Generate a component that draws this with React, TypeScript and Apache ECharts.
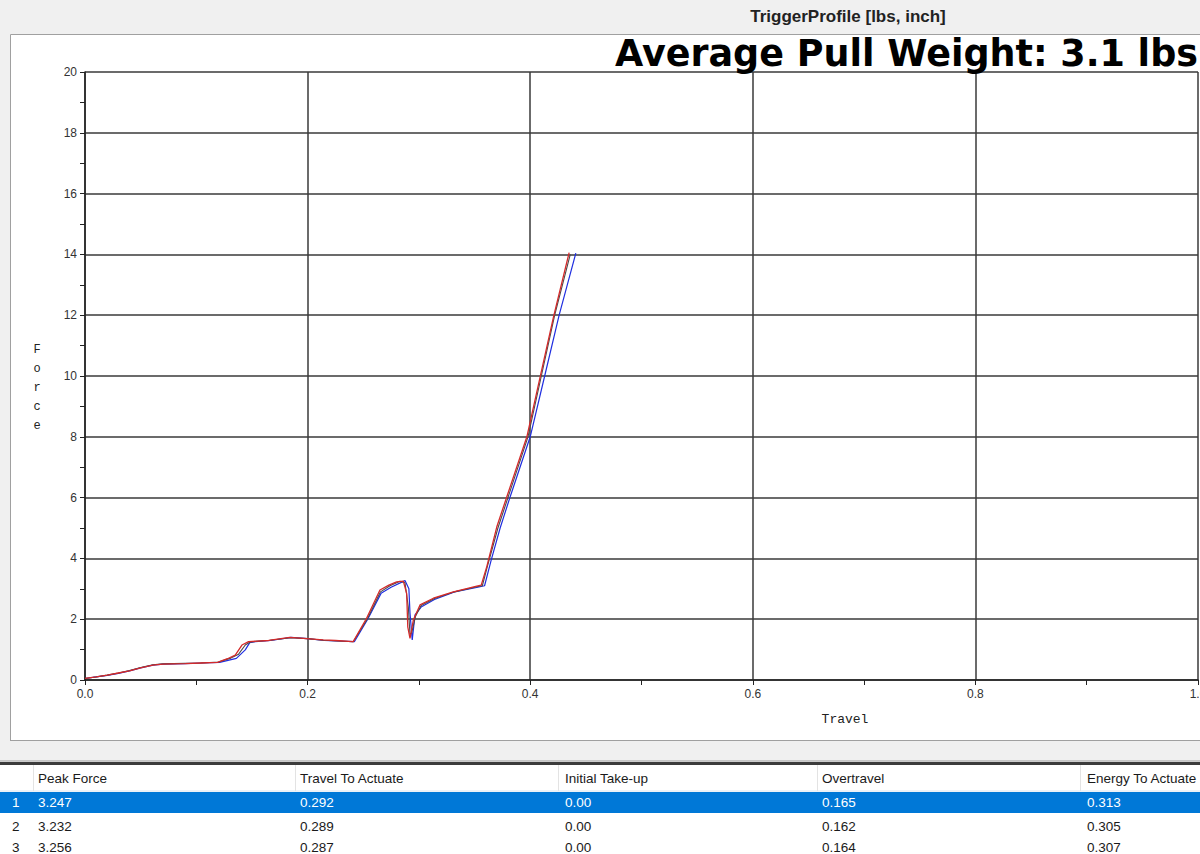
import React, { useEffect, useRef } from "react";
import * as echarts from "echarts";

// ---- Chart data (travel [inch], force [lbs]) ----
const redCurve: [number, number][] = [
  [0, 0.05], [0.01, 0.1], [0.02, 0.16], [0.03, 0.23], [0.04, 0.3], [0.05, 0.4], [0.061, 0.49],
  [0.07, 0.52], [0.09, 0.54], [0.104, 0.56], [0.119, 0.58], [0.128, 0.7], [0.135, 0.82],
  [0.141, 1.15], [0.147, 1.26], [0.165, 1.3], [0.184, 1.4], [0.199, 1.36], [0.214, 1.32],
  [0.225, 1.3], [0.241, 1.26], [0.253, 2.03], [0.265, 2.96], [0.273, 3.12], [0.28, 3.23],
  [0.286, 3.25], [0.289, 2.85], [0.29, 1.75], [0.292, 1.37], [0.295, 1.97], [0.301, 2.47],
  [0.313, 2.69], [0.331, 2.9], [0.352, 3.09], [0.356, 3.12], [0.361, 3.73], [0.37, 5.04],
  [0.379, 6.03], [0.397, 8.0], [0.409, 9.98], [0.421, 11.95], [0.435, 14.06],
];
const blueCurve: [number, number][] = [
  [0, 0.05], [0.01, 0.1], [0.02, 0.15], [0.03, 0.22], [0.04, 0.3], [0.05, 0.4], [0.061, 0.49],
  [0.07, 0.52], [0.09, 0.54], [0.105, 0.56], [0.121, 0.58], [0.136, 0.71], [0.144, 0.99],
  [0.148, 1.23], [0.153, 1.26], [0.167, 1.3], [0.185, 1.4], [0.2, 1.36], [0.215, 1.3],
  [0.242, 1.26], [0.254, 2.0], [0.266, 2.85], [0.275, 3.05], [0.2875, 3.27], [0.291, 3.0],
  [0.292, 2.2], [0.294, 1.32], [0.2965, 2.14], [0.302, 2.4], [0.314, 2.65], [0.332, 2.9],
  [0.353, 3.05], [0.359, 3.1], [0.365, 3.95], [0.373, 5.0], [0.382, 6.03], [0.4, 8.0],
  [0.413, 10.0], [0.426, 12.0], [0.441, 14.04],
];
const grayCurve: [number, number][] = [
  [0, 0.05], [0.01, 0.1], [0.02, 0.16], [0.03, 0.23], [0.04, 0.31], [0.05, 0.41], [0.061, 0.5],
  [0.07, 0.53], [0.09, 0.55], [0.104, 0.56], [0.12, 0.59], [0.131, 0.72], [0.138, 0.85],
  [0.144, 1.15], [0.148, 1.24], [0.153, 1.27], [0.166, 1.31], [0.185, 1.39], [0.2, 1.36],
  [0.214, 1.31], [0.241, 1.26], [0.2535, 2.0], [0.2655, 2.9], [0.274, 3.1], [0.283, 3.25],
  [0.2875, 3.2], [0.2905, 2.4], [0.292, 1.5], [0.2935, 1.55], [0.297, 2.1], [0.302, 2.45],
  [0.314, 2.68], [0.332, 2.9], [0.352, 3.07], [0.357, 3.1], [0.362, 3.8], [0.371, 5.0],
  [0.38, 6.0], [0.398, 8.0], [0.41, 10.0], [0.422, 12.0], [0.436, 14.0],
];

// ---- Texts ----
const chartTitle = "TriggerProfile [lbs, inch]";
const headline = "Average Pull Weight: 3.1 lbs";
const yAxisName = "Force";
const xAxisName = "Travel";

// ---- Results table ----
const tableHeaders = ["Peak Force", "Travel To Actuate", "Initial Take-up", "Overtravel", "Energy To Actuate"];
const rowNumbers = ["1", "2", "3"];
const peakForce = ["3.247", "3.232", "3.256"];
const travelToActuate = ["0.292", "0.289", "0.287"];
const initialTakeUp = ["0.00", "0.00", "0.00"];
const overtravel = ["0.165", "0.162", "0.164"];
const energyToActuate = ["0.313", "0.305", "0.307"];

const W = 1200;
const H = 854;

export default function App() {
  const ref = useRef<HTMLDivElement>(null);

  useEffect(() => {
    if (!ref.current) return;
    const chart = echarts.init(ref.current, null, { renderer: "svg", width: W, height: H });

    const colX = [38, 300, 565, 822, 1087];
    const dividerX = [33, 295, 558, 817, 1080];
    const rowY = [802, 826, 847];
    const columns = [peakForce, travelToActuate, initialTakeUp, overtravel, energyToActuate];
    const tableFont = "13.5px 'Liberation Sans', Arial, sans-serif";

    const graphics: any[] = [
      // gray surroundings of the white plot panel
      { type: "rect", shape: { x: 0, y: 0, width: W, height: 34 }, style: { fill: "#f0f0f0" }, silent: true },
      { type: "rect", shape: { x: 0, y: 0, width: 10, height: 760 }, style: { fill: "#f0f0f0" }, silent: true },
      { type: "rect", shape: { x: 0, y: 741, width: W, height: 20 }, style: { fill: "#f0f0f0" }, silent: true },
      {
        type: "polyline",
        shape: { points: [[10.5, 741], [10.5, 34.5], [W, 34.5]] },
        style: { stroke: "#a0a0a0", lineWidth: 1, fill: null },
        silent: true,
      },
      { type: "line", shape: { x1: 10, y1: 740.5, x2: W, y2: 740.5 }, style: { stroke: "#a0a0a0", lineWidth: 1 }, silent: true },
      {
        type: "text",
        x: 848,
        y: 16,
        style: { text: chartTitle, font: "bold 17px 'Liberation Sans', Arial, sans-serif", fill: "#222", align: "center", verticalAlign: "middle" },
      },
      {
        type: "text",
        x: 1198,
        y: 53,
        style: { text: headline, font: "bold 36.5px 'DejaVu Sans', sans-serif", fill: "#000", align: "right", verticalAlign: "middle" },
        z: 10,
      },
      {
        type: "text",
        x: 37,
        y: 388,
        style: {
          text: yAxisName.split("").join("\n"),
          font: "12px 'Liberation Mono', 'DejaVu Sans Mono', monospace",
          lineHeight: 19,
          fill: "#222",
          align: "center",
          verticalAlign: "middle",
        },
      },
      {
        type: "text",
        x: 845,
        y: 719,
        style: { text: xAxisName, font: "13px 'Liberation Mono', 'DejaVu Sans Mono', monospace", fill: "#222", align: "center", verticalAlign: "middle" },
      },
      // table separators
      { type: "line", shape: { x1: 0, y1: 761, x2: W, y2: 761 }, style: { stroke: "#9a9a9a", lineWidth: 1 }, silent: true },
      { type: "rect", shape: { x: 0, y: 762, width: W, height: 3 }, style: { fill: "#3c3c3c" }, silent: true },
      { type: "rect", shape: { x: 0, y: 765, width: W, height: 26 }, style: { fill: "#ffffff" }, silent: true },
      { type: "line", shape: { x1: 0, y1: 791, x2: W, y2: 791 }, style: { stroke: "#d8e4f0", lineWidth: 1 }, silent: true },
      { type: "rect", shape: { x: 0, y: 792, width: W, height: 21 }, style: { fill: "#0078d7" }, silent: true },
    ];

    dividerX.forEach((x) => {
      graphics.push({ type: "line", shape: { x1: x + 0.5, y1: 765, x2: x + 0.5, y2: 791 }, style: { stroke: "#e3e3e3", lineWidth: 1 }, silent: true });
    });
    tableHeaders.forEach((h, i) => {
      graphics.push({ type: "text", x: colX[i], y: 778, style: { text: h, font: tableFont, fill: "#1a1a1a", verticalAlign: "middle" } });
    });
    rowNumbers.forEach((n, r) => {
      const color = r === 0 ? "#ffffff" : "#1a1a1a";
      graphics.push({ type: "text", x: 12, y: rowY[r], style: { text: n, font: tableFont, fill: color, verticalAlign: "middle" } });
      columns.forEach((col, c) => {
        graphics.push({ type: "text", x: colX[c], y: rowY[r], style: { text: col[r], font: tableFont, fill: color, verticalAlign: "middle" } });
      });
    });

    const lineSeries = (name: string, data: [number, number][], color: string, width: number) => ({
      name,
      type: "line",
      data,
      showSymbol: false,
      symbol: "none",
      lineStyle: { color, width },
      z: 3,
    });

    chart.setOption({
      animation: false,
      backgroundColor: "#ffffff",
      grid: { left: 85, right: 2, top: 72, bottom: 174, containLabel: false, outerBoundsMode: "none" },
      xAxis: {
        type: "value",
        min: 0,
        max: 1,
        interval: 0.2,
        axisLine: { show: true, lineStyle: { color: "#222", width: 1.5 } },
        axisTick: { show: true, length: 5, lineStyle: { color: "#222" } },
        minorTick: { show: true, splitNumber: 2, length: 5, lineStyle: { color: "#222" } },
        splitLine: { show: true, lineStyle: { color: "#3a3a3a", width: 1.5 } },
        axisLabel: {
          formatter: (v: number) => v.toFixed(1),
          color: "#333",
          fontSize: 12,
          fontFamily: "'Liberation Sans', Arial, sans-serif",
          margin: 8,
          showMaxLabel: true,
        },
      },
      yAxis: {
        type: "value",
        min: 0,
        max: 20,
        interval: 2,
        axisLine: { show: true, lineStyle: { color: "#222", width: 1.5 } },
        axisTick: { show: true, length: 5, lineStyle: { color: "#222" } },
        minorTick: { show: true, splitNumber: 2, length: 5, lineStyle: { color: "#222" } },
        splitLine: { show: true, lineStyle: { color: "#3a3a3a", width: 1.5 } },
        axisLabel: {
          color: "#333",
          fontSize: 12,
          fontFamily: "'Liberation Sans', Arial, sans-serif",
          margin: 8,
        },
      },
      graphic: { elements: graphics },
      series: [
        lineSeries("Pull 2", blueCurve, "#1f2ee0", 1.2),
        lineSeries("Pull 3", grayCurve, "#4a4a4a", 1.1),
        lineSeries("Pull 1", redCurve, "#d42a2a", 1.3),
      ],
    });

    return () => chart.dispose();
  }, []);

  return <div ref={ref} style={{ position: "fixed", left: 0, top: 0, width: W, height: H }} />;
}
